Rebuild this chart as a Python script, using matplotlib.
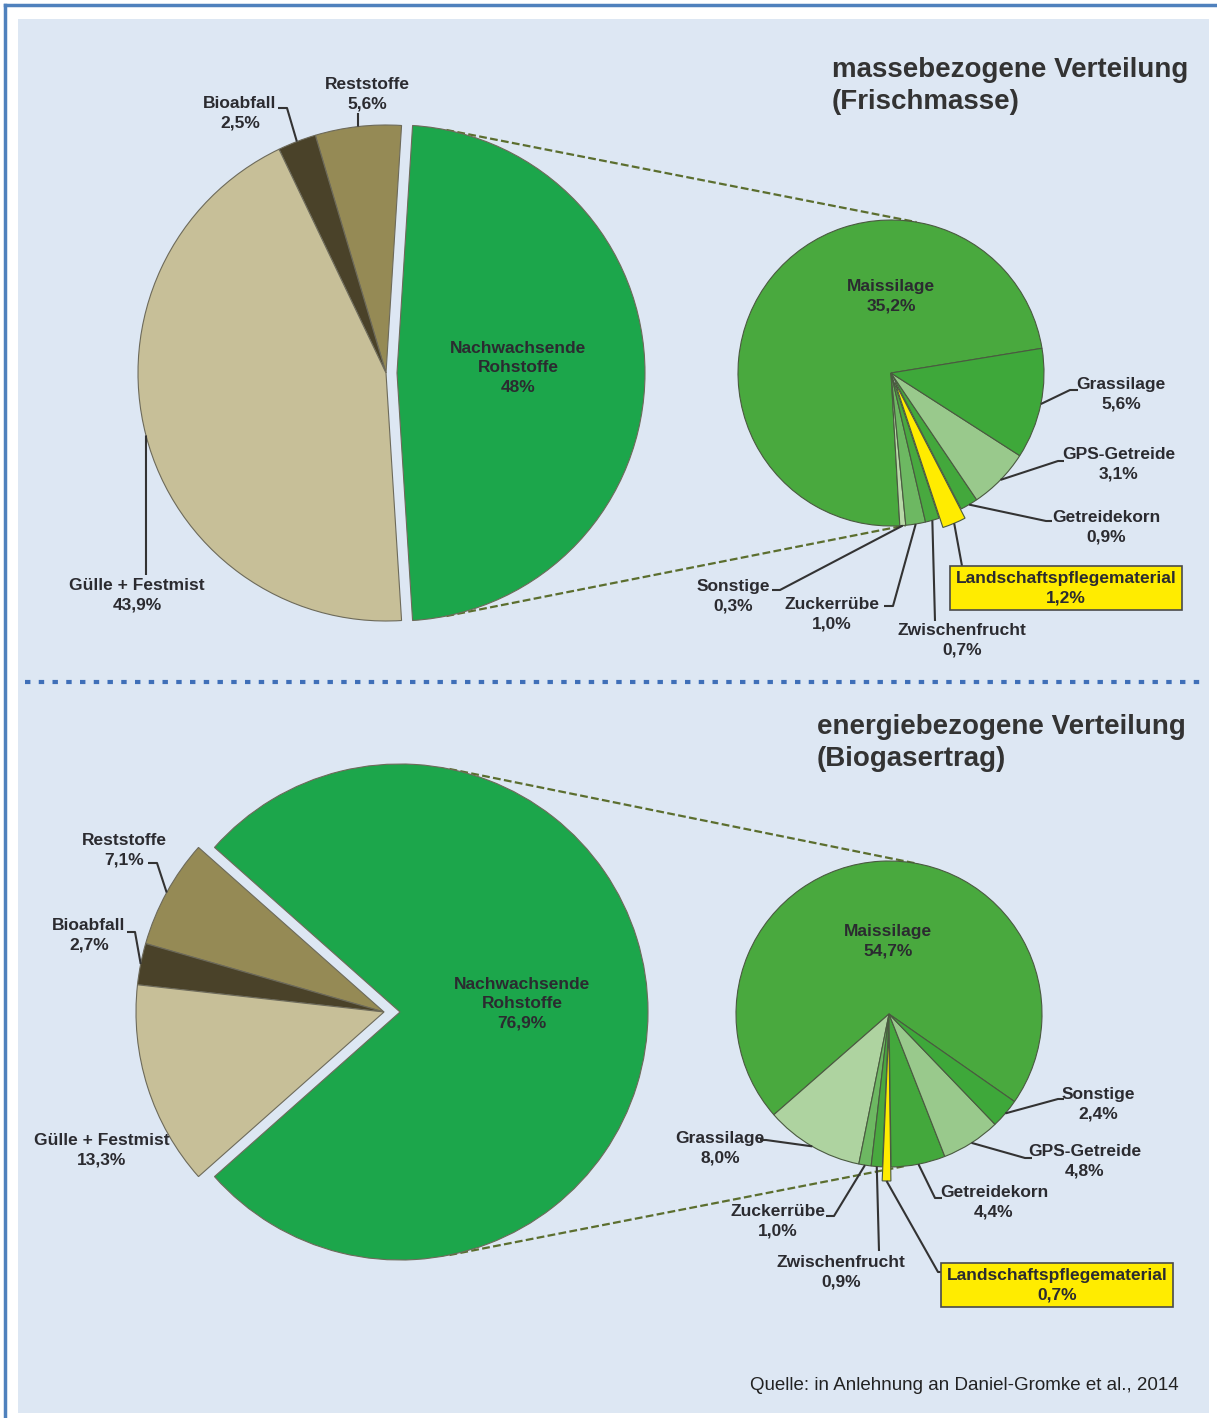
import math
import matplotlib.pyplot as plt
from matplotlib.patches import Rectangle

plt.rcParams['font.family'] = ['Liberation Sans', 'DejaVu Sans']

W, H = 1217, 1418

# Hauptverteilung (Anteile in %)
main_labels = ["Nachwachsende\nRohstoffe", "Reststoffe", "Bioabfall", "Gülle + Festmist"]
mass_main = [48, 5.6, 2.5, 43.9]
energy_main = [76.9, 7.1, 2.7, 13.3]
main_colors = ["#1ca64b", "#958a55", "#4a4229", "#c7bf98"]

# Aufteilung der nachwachsenden Rohstoffe, Frischmasse
mass_nawaro_labels = ["Maissilage", "Sonstige", "Zuckerrübe", "Zwischenfrucht",
                      "Landschaftspflegematerial", "Getreidekorn", "GPS-Getreide", "Grassilage"]
mass_nawaro = [35.2, 0.3, 1.0, 0.7, 1.2, 0.9, 3.1, 5.6]
mass_nawaro_colors = ["#49a93e", "#b8d9a8", "#6db862", "#48a93f",
                      "#ffec00", "#43a83c", "#99c98c", "#3ea83a"]

# Aufteilung der nachwachsenden Rohstoffe, Biogasertrag
energy_nawaro_labels = ["Maissilage", "Grassilage", "Zuckerrübe", "Zwischenfrucht",
                        "Landschaftspflegematerial", "Getreidekorn", "GPS-Getreide", "Sonstige"]
energy_nawaro = [54.7, 8.0, 1.0, 0.9, 0.7, 4.4, 4.8, 2.4]
energy_nawaro_colors = ["#49a93e", "#aed3a0", "#6db862", "#48a93f",
                        "#ffec00", "#43a83c", "#99c98c", "#3ea83a"]

TXT = "#2b2b30"
LS = 1.35


def P(x, y):
    # Pixelkoordinaten (y nach unten) -> Daten
    return (x, H - y)


def pct(v):
    if isinstance(v, int):
        return f"{v}%"
    return f"{v:.1f}%".replace(".", ",")


fig = plt.figure(figsize=(W / 100, H / 100), dpi=100)
fig.patch.set_facecolor("white")
ax = fig.add_axes([0, 0, 1, 1])

ax.add_patch(Rectangle((18, H - 1413), 1191, 1394, fc="#dde7f3", ec="none", zorder=0))
ax.plot([5, 5], [0, H - 5], color="#4f81bd", lw=2.5, zorder=1)
ax.plot([5, W], [H - 5, H - 5], color="#4f81bd", lw=2.5, zorder=1)


def draw_pie(values, colors, center, r, start, explode, edge):
    wedges, _ = ax.pie(values, colors=colors, startangle=start, counterclock=True,
                       radius=r, center=P(*center), explode=explode,
                       wedgeprops=dict(edgecolor=edge, linewidth=0.8))
    for w in wedges:
        w.set_zorder(3)
    return wedges


def edge_point(w, ang=None, extra=0):
    if ang is None:
        ang = 0.5 * (w.theta1 + w.theta2)
    a = math.radians(ang)
    return (w.center[0] + (w.r + extra) * math.cos(a), w.center[1] + (w.r + extra) * math.sin(a))


def label(w, name, value, pos, path, size=12.5, box=False):
    txt = f"{name}\n{pct(value)}"
    kw = {}
    if box:
        kw["bbox"] = dict(boxstyle="square,pad=0.3", fc="#ffec00", ec="#4a4a4a", lw=1.2)
    ax.text(*P(*pos), txt, ha="center", va="center", fontsize=size, fontweight="bold",
            color=TXT, linespacing=LS, zorder=6, **kw)
    if path:
        x0, y0 = edge_point(w)
        xs = [x0] + [p[0] for p in path]
        ys = [y0] + [H - p[1] for p in path]
        ax.plot(xs, ys, color="#333333", lw=1.5, zorder=5, solid_capstyle="butt")


def connectors(green, detail):
    for a_from, a_to in [(78.5, 80.4), (-78.5, -84.5)]:
        x0, y0 = edge_point(green, a_from)
        x1, y1 = edge_point(detail, a_to)
        ax.plot([x0, x1], [y0, y1], color="#5b6e2e", lw=1.6, ls=(0, (3.5, 1.5)), zorder=2)


# ---------- massebezogen ----------
start = -mass_main[0] / sum(mass_main) * 180
mw = draw_pie(mass_main, main_colors, (386, 373), 248, start, [11, 0, 0, 0], "#6d6a5a")
dw = draw_pie(mass_nawaro, mass_nawaro_colors, (891, 373), 153, 9.3,
              [0, 0, 0, 0, 10, 0, 0, 0], "#4a5a40")
connectors(mw[0], dw[0])

ax.text(*P(518, 368), f"{main_labels[0]}\n{pct(mass_main[0])}", ha="center", va="center",
        fontsize=12.5, fontweight="bold", color=TXT, linespacing=LS, zorder=6)
label(mw[1], main_labels[1], mass_main[1], (367, 94), [(358, 113)])
label(mw[2], main_labels[2], mass_main[2], (240, 113), [(287, 108), (278, 108)])
label(mw[3], main_labels[3], mass_main[3], (137, 595), [(146, 575)])

mass_pos = [
    ((891, 296), None),
    ((733, 596), [(780, 590), (772, 590)]),
    ((832, 614), [(893, 606), (884, 606)]),
    ((962, 640), [(935, 621)]),
    ((1066, 588), [(962, 566)]),
    ((1106, 527), [(1046, 521), (1052, 521)]),
    ((1119, 464), [(1058, 461), (1064, 461)]),
    ((1121, 394), [(1070, 390), (1078, 390)]),
]
for w, n, v, (pos, path) in zip(dw, mass_nawaro_labels, mass_nawaro, mass_pos):
    label(w, n, v, pos, path, box=(n == "Landschaftspflegematerial"))

ax.text(*P(832, 86), "massebezogene Verteilung\n(Frischmasse)", ha="left", va="center",
        fontsize=20, fontweight="bold", color="#333333", linespacing=1.28)

# Trennlinie
ax.plot([25, 1203], [H - 682, H - 682], color="#3f6fb8", lw=3, ls=(0, (1.3, 2)), zorder=2)

# ---------- energiebezogen ----------
start = -energy_main[0] / sum(energy_main) * 180
ew = draw_pie(energy_main, main_colors, (384, 1012), 248, start, [16, 0, 0, 0], "#6d6a5a")
edw = draw_pie(energy_nawaro, energy_nawaro_colors, (889, 1014), 153, -34.9,
               [0, 0, 0, 0, 14, 0, 0, 0], "#4a5a40")
connectors(ew[0], edw[0])

ax.text(*P(522, 1004), f"{main_labels[0]}\n{pct(energy_main[0])}", ha="center", va="center",
        fontsize=12.5, fontweight="bold", color=TXT, linespacing=LS, zorder=6)
label(ew[1], main_labels[1], energy_main[1], (124, 850), [(157, 863), (148, 863)])
label(ew[2], main_labels[2], energy_main[2], (89, 935), [(135, 932), (127, 932)])
label(ew[3], main_labels[3], energy_main[3], (102, 1150), None)

energy_pos = [
    ((888, 941), None),
    ((720, 1148), [(766, 1140), (760, 1140)]),
    ((778, 1221), [(834, 1216), (826, 1216)]),
    ((841, 1272), [(879, 1251)]),
    ((1057, 1285), [(938, 1272), (947, 1272)]),
    ((994, 1202), [(935, 1198), (942, 1198)]),
    ((1085, 1161), [(1025, 1158), (1032, 1158)]),
    ((1098, 1104), [(1058, 1099), (1064, 1099)]),
]
for w, n, v, (pos, path) in zip(edw, energy_nawaro_labels, energy_nawaro, energy_pos):
    label(w, n, v, pos, path, box=(n == "Landschaftspflegematerial"))

ax.text(*P(817, 743), "energiebezogene Verteilung\n(Biogasertrag)", ha="left", va="center",
        fontsize=20, fontweight="bold", color="#333333", linespacing=1.28)

ax.text(*P(750, 1386), "Quelle: in Anlehnung an Daniel-Gromke et al., 2014", ha="left",
        va="center", fontsize=13.5, color="#222222")

ax.set_xlim(0, W)
ax.set_ylim(0, H)
ax.set_aspect("auto")
ax.axis("off")

fig.savefig("out.png", dpi=100, facecolor="white")
